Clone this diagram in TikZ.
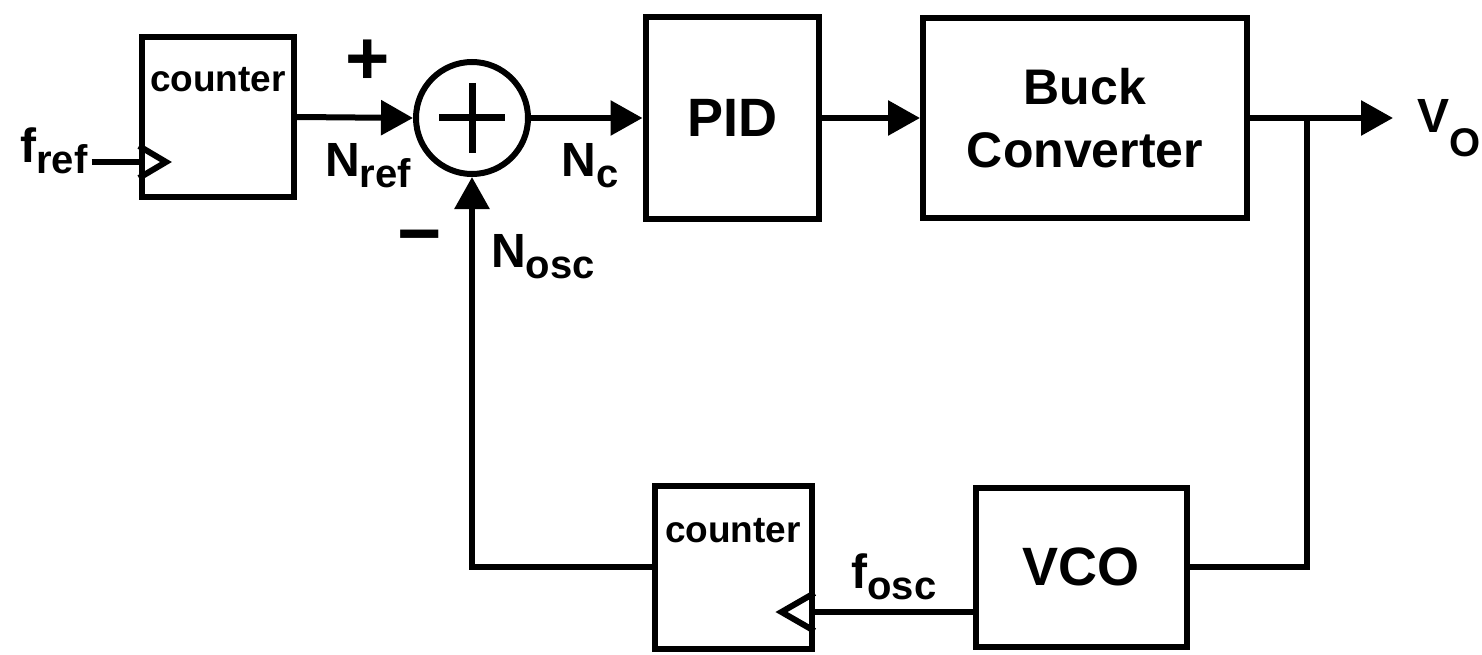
\documentclass[tikz,border=0pt]{standalone}
\usepackage{fontspec}
\setmainfont{Liberation Sans}
\usepackage{tikz}
\usetikzlibrary{arrows.meta,positioning,calc}
\newcommand{\sbx}[1]{\raisebox{-11pt}{\fontsize{40}{40}\selectfont #1}}

\begin{document}
\begin{tikzpicture}[x=1pt,y=-1pt,line width=6pt,
  box/.style={rectangle,draw,line width=6pt,inner sep=0pt,align=center,
              font=\fontsize{54}{63}\selectfont\bfseries},
  sumnode/.style={circle,draw,line width=6pt,minimum size=112pt,inner sep=0pt,
              path picture={\draw[line width=7pt] (path picture bounding box.center)
                +(-33,0) -- +(33,0) +(0,-35) -- +(0,35);}},
  cnttxt/.style={inner sep=0pt,font=\fontsize{37}{37}\selectfont\bfseries},
  lbl/.style={inner sep=1pt,font=\fontsize{48}{48}\selectfont\bfseries},
  sgn/.style={inner sep=0pt,font=\fontsize{76}{76}\selectfont\bfseries},
  arrow/.style={-{Triangle[length=32pt,width=34pt]}}
]
\useasboundingbox (0,0) rectangle (1482,655);
% Reference counter
\node[box,minimum width=152pt,minimum height=160pt] (cntref) at (218,117) {};
\node[cnttxt,below=30pt of cntref.north] (cntreftxt) {counter};
\coordinate (clkref) at ($(cntref.west)+(0,45)$);
\draw (clkref) +(0,-16) -- +(27,0) -- +(0,16);
\node[lbl,anchor=base] (fref) at (54,163) {f\sbx{ref}};
\draw (fref.east |- clkref) -- (clkref);
% Summing junction
\node[sumnode] (sum) at (472,118) {};
\node[sgn] (plus) at (368,62) {+};
\node[sgn] (minus) at (420,245) {−};
\node[lbl,anchor=base] (nref) at (368,177) {N\sbx{ref}};
\node[lbl,anchor=base] (nc) at (590,177) {N\sbx{c}};
\node[lbl,anchor=base] (nosc) at (543,267) {N\sbx{osc}};
% Forward path
\node[box,minimum width=173pt,minimum height=201pt] (pid) at (732,118) {PID};
\node[box,minimum width=324pt,minimum height=199pt,
      font=\fontsize{50}{63}\selectfont\bfseries] (buck) at (1085,118) {Buck\\Converter};
\coordinate (tap) at (1307,118);
\coordinate (vout) at (1393,118);
\node[lbl,anchor=base west] (vo) at (1413,133)
  {V\raisebox{-24pt}{\fontsize{40}{40}\selectfont O}};
\draw[arrow] (cntref.east) -- (sum.west);
\draw[arrow] (sum.east) -- (pid.west);
\draw[arrow] (pid.east) -- (buck.west);
\draw[arrow] (buck.east) -- (vout);
% Feedback path
\node[box,minimum width=211pt,minimum height=159pt] (vco) at (1081,567) {VCO};
\node[box,minimum width=157pt,minimum height=163pt] (cntosc) at (733,567) {};
\node[cnttxt,below=33pt of cntosc.north] (cntosctxt) {counter};
\coordinate (clkosc) at ($(cntosc.east)+(0,45)$);
\draw (clkosc) +(0,-19) -- +(-33,0) -- +(0,19);
\node[lbl,anchor=base] (fosc) at (894,588) {f\sbx{osc}};
\draw (tap) |- (vco.east);
\draw (vco.west |- clkosc) -- (clkosc);
\draw[arrow] (cntosc.west) -| (sum.south);
\end{tikzpicture}
\end{document}
